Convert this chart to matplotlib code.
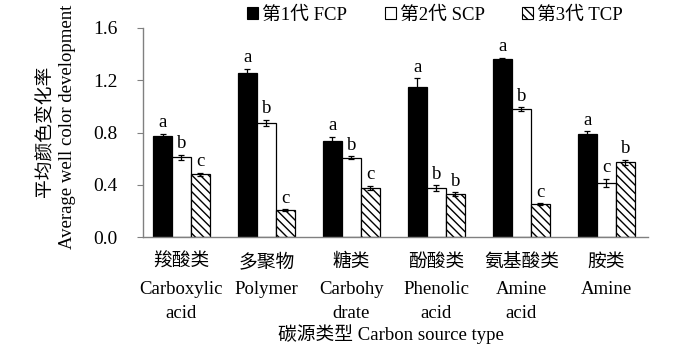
import matplotlib
matplotlib.use("Agg")
import matplotlib.pyplot as plt
import matplotlib.transforms as mtransforms
import numpy as np
from matplotlib.patches import Patch

plt.rcParams['font.family'] = ['Liberation Serif', 'Noto Sans CJK SC']
plt.rcParams['hatch.linewidth'] = 1.0

cat_cn = ["羧酸类", "多聚物", "糖类", "酚酸类", "氨基酸类", "胺类"]
cat_en1 = ["Carboxylic", "Polymer", "Carbohy", "Phenolic", "Amine", "Amine"]
cat_en2 = ["acid", "", "drate", "acid", "acid", ""]
series_names = ["第1代 FCP", "第2代 SCP", "第3代 TCP"]
fcp = [0.776, 1.258, 0.737, 1.146, 1.365, 0.786]
scp = [0.610, 0.873, 0.607, 0.375, 0.978, 0.413]
tcp = [0.480, 0.207, 0.378, 0.327, 0.253, 0.572]
fcp_err = [0.012, 0.030, 0.030, 0.070, 0.008, 0.022]
scp_err = [0.020, 0.022, 0.010, 0.020, 0.015, 0.032]
tcp_err = [0.012, 0.006, 0.015, 0.015, 0.006, 0.020]
fcp_sig = ["a", "a", "a", "a", "a", "a"]
scp_sig = ["b", "b", "b", "b", "b", "c"]
tcp_sig = ["c", "c", "c", "b", "c", "b"]
yticks = [0.0, 0.4, 0.8, 1.2, 1.6]

fs = 13.5
fig = plt.figure(figsize=(7.0, 3.55), dpi=100)
ax_h = (237 - 28) / 355
ax = fig.add_axes([143/700, 1-237/355, (648-143)/700, ax_h])

x = np.arange(len(cat_cn))
w = 0.2235
styles = [dict(color='black', edgecolor='black'),
          dict(color='white', edgecolor='black'),
          dict(color='white', edgecolor='black', hatch='\\\\\\\\')]
data = [fcp, scp, tcp]
errs = [fcp_err, scp_err, tcp_err]
sigs = [fcp_sig, scp_sig, tcp_sig]
for i in range(3):
    pos = x + (i - 1) * w
    ax.bar(pos, data[i], width=w, linewidth=0.9, **styles[i])
    ax.errorbar(pos, data[i], yerr=errs[i], fmt='none', ecolor='black',
                elinewidth=0.9, capsize=2.5, capthick=0.9)
    for p, v, e, s in zip(pos, data[i], errs[i], sigs[i]):
        ax.text(p, v + e + 0.02, s, ha='center', va='bottom', fontsize=fs)

ax.set_ylim(0, 1.6)
ax.set_xlim(-0.453, 5.49)
ax.set_yticks(yticks)
ax.set_yticklabels([f"{t:.1f}" for t in yticks], fontsize=14)
ax.set_xticks([])
ax.tick_params(axis='y', direction='out', length=4, color='#808080', pad=14)
for s in ['top', 'right']:
    ax.spines[s].set_visible(False)
for s in ['left', 'bottom']:
    ax.spines[s].set_color('#808080')
    ax.spines[s].set_linewidth(1.0)

# category labels in three rows (pixel rows converted to axes fraction)
trans = mtransforms.blended_transform_factory(ax.transData, ax.transAxes)
def row_y(py):
    return (237 - py) / (237 - 28)
for xi, a, b, c in zip(x, cat_cn, cat_en1, cat_en2):
    ax.text(xi, row_y(262), a, transform=trans, ha='center', va='center', fontsize=fs)
    ax.text(xi, row_y(290), b, transform=trans, ha='center', va='center', fontsize=fs)
    if c:
        ax.text(xi, row_y(313), c, transform=trans, ha='center', va='center', fontsize=fs)

fig.text(45/700, 1-131/355, "平均颜色变化率", rotation=90, ha='center', va='center', fontsize=fs)
fig.text(68/700, 1-127/355, "Average well color development", rotation=90, ha='center', va='center', fontsize=fs)
fig.text(391/700, 1-334/355, "碳源类型 Carbon source type", ha='center', va='center', fontsize=fs)

handles = [Patch(facecolor='black', edgecolor='black', linewidth=0.8),
           Patch(facecolor='white', edgecolor='black', linewidth=0.8),
           Patch(facecolor='white', edgecolor='black', hatch='\\\\\\\\', linewidth=0.8)]
fig.legend(handles, series_names, loc='center left', bbox_to_anchor=(247/700, 1-15/355),
           ncol=3, frameon=False, fontsize=fs, handlelength=0.6, handleheight=0.6,
           handletextpad=0.2, columnspacing=2.0, borderpad=0, borderaxespad=0)

fig.savefig("out.png", dpi=100)
